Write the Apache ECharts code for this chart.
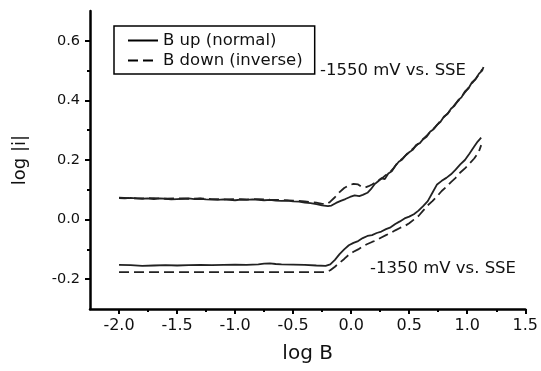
<!DOCTYPE html>
<html><head><meta charset="utf-8">
<script src="https://cdn.jsdelivr.net/npm/echarts@6/dist/echarts.min.js"></script>
<style>html,body{margin:0;padding:0;background:#fff}#c{width:541px;height:371px}</style>
</head><body><div id="c"></div>
<script>
const xMajorTicks = [-2.0,-1.5,-1.0,-0.5,0.0,0.5,1.0,1.5];
const xMinorTicks = [-1.75,-1.25,-0.75,-0.25,0.25,0.75,1.25];
const yMajorTicks = [-0.2,0.0,0.2,0.4,0.6];
const yMinorTicks = [-0.1,0.1,0.3,0.5];
const seriesNames = ['B up (normal)','B down (inverse)'];
const curveLabels = ['-1550 mV vs. SSE','-1350 mV vs. SSE'];
const axisNames = ['log B','log |i|'];

const up1550 = [[-2.00,0.072],[-1.95,0.071],[-1.90,0.073],[-1.85,0.071],[-1.80,0.070],[-1.75,0.071],[-1.70,0.069],[-1.65,0.071],[-1.60,0.070],[-1.55,0.068],[-1.50,0.069],[-1.45,0.070],[-1.40,0.071],[-1.35,0.069],[-1.30,0.070],[-1.25,0.068],[-1.20,0.067],[-1.15,0.066],[-1.10,0.068],[-1.05,0.066],[-1.00,0.065],[-0.95,0.067],[-0.90,0.066],[-0.85,0.068],[-0.80,0.066],[-0.75,0.065],[-0.70,0.066],[-0.65,0.064],[-0.60,0.063],[-0.55,0.064],[-0.50,0.061],[-0.45,0.060],[-0.40,0.057],[-0.35,0.055],[-0.30,0.052],[-0.25,0.048],[-0.20,0.045],[-0.17,0.047],[-0.13,0.056],[-0.09,0.063],[-0.05,0.069],[-0.01,0.076],[0.03,0.081],[0.07,0.079],[0.10,0.083],[0.14,0.090],[0.17,0.102],[0.20,0.118],[0.23,0.128],[0.26,0.138],[0.29,0.136],[0.32,0.155],[0.35,0.162],[0.38,0.180],[0.41,0.194],[0.44,0.202],[0.47,0.216],[0.50,0.226],[0.53,0.234],[0.56,0.250],[0.59,0.256],[0.62,0.270],[0.65,0.278],[0.68,0.295],[0.71,0.303],[0.74,0.318],[0.77,0.328],[0.80,0.346],[0.83,0.354],[0.86,0.372],[0.89,0.382],[0.92,0.400],[0.95,0.410],[0.98,0.430],[1.01,0.440],[1.04,0.460],[1.07,0.470],[1.10,0.489],[1.13,0.501],[1.14,0.512]];

const down1550 = [[-2.00,0.074],[-1.90,0.072],[-1.80,0.071],[-1.70,0.072],[-1.60,0.070],[-1.50,0.071],[-1.40,0.070],[-1.30,0.071],[-1.20,0.069],[-1.10,0.068],[-1.00,0.069],[-0.90,0.068],[-0.80,0.069],[-0.70,0.067],[-0.60,0.066],[-0.50,0.064],[-0.40,0.061],[-0.30,0.057],[-0.25,0.053],[-0.21,0.052],[-0.18,0.060],[-0.14,0.075],[-0.10,0.092],[-0.06,0.106],[-0.02,0.115],[0.02,0.120],[0.06,0.118],[0.09,0.110],[0.12,0.108],[0.15,0.112],[0.18,0.118],[0.21,0.125],[0.24,0.133],[0.27,0.140],[0.30,0.150],[0.33,0.158],[0.36,0.170],[0.39,0.186],[0.42,0.198],[0.45,0.208],[0.48,0.220],[0.51,0.230],[0.54,0.241],[0.57,0.252],[0.60,0.262],[0.63,0.274],[0.66,0.285],[0.69,0.298],[0.72,0.309],[0.75,0.322],[0.78,0.336],[0.81,0.348],[0.84,0.360],[0.87,0.375],[0.90,0.389],[0.93,0.402],[0.96,0.417],[0.99,0.432],[1.02,0.447],[1.05,0.462],[1.08,0.476],[1.11,0.492],[1.13,0.505]];

const up1350 = [[-2.00,-0.152],[-1.90,-0.153],[-1.80,-0.155],[-1.70,-0.154],[-1.60,-0.153],[-1.50,-0.154],[-1.40,-0.153],[-1.30,-0.152],[-1.20,-0.153],[-1.10,-0.152],[-1.00,-0.151],[-0.90,-0.152],[-0.80,-0.150],[-0.75,-0.148],[-0.70,-0.147],[-0.65,-0.149],[-0.60,-0.150],[-0.50,-0.151],[-0.40,-0.152],[-0.30,-0.154],[-0.22,-0.155],[-0.18,-0.150],[-0.14,-0.135],[-0.10,-0.116],[-0.06,-0.100],[-0.02,-0.086],[0.02,-0.078],[0.06,-0.072],[0.10,-0.062],[0.14,-0.055],[0.18,-0.052],[0.22,-0.045],[0.26,-0.040],[0.30,-0.032],[0.34,-0.026],[0.38,-0.015],[0.42,-0.006],[0.46,0.004],[0.50,0.010],[0.54,0.018],[0.58,0.030],[0.62,0.045],[0.66,0.062],[0.70,0.090],[0.74,0.118],[0.78,0.130],[0.82,0.140],[0.86,0.152],[0.90,0.168],[0.94,0.185],[0.98,0.200],[1.02,0.222],[1.06,0.245],[1.09,0.262],[1.12,0.275]];

const down1350 = [[-2.00,-0.176],[-1.50,-0.176],[-1.00,-0.176],[-0.50,-0.176],[-0.22,-0.176],[-0.18,-0.170],[-0.14,-0.158],[-0.10,-0.145],[-0.06,-0.132],[-0.02,-0.118],[0.02,-0.108],[0.06,-0.100],[0.10,-0.090],[0.14,-0.082],[0.18,-0.075],[0.22,-0.069],[0.26,-0.060],[0.30,-0.052],[0.34,-0.045],[0.38,-0.036],[0.42,-0.028],[0.46,-0.022],[0.50,-0.012],[0.54,0.000],[0.58,0.012],[0.62,0.030],[0.66,0.048],[0.70,0.062],[0.74,0.078],[0.78,0.096],[0.82,0.110],[0.86,0.126],[0.90,0.140],[0.94,0.158],[0.98,0.172],[1.02,0.188],[1.06,0.205],[1.10,0.228],[1.12,0.250]];

const FONT = 'DejaVu Sans';
const INK = '#111';
const LINE = '#222';
const chart = echarts.init(document.getElementById('c'), null, {renderer:'canvas'});

function xAxisDef(ticks, len, withLabels){
  return {
    type:'value', min:-2.25, max:1.5, position:'bottom', gridIndex:0,
    axisLine:{show:withLabels, onZero:false, lineStyle:{color:'#000', width:2.5}},
    axisTick:{show:true, customValues:ticks, length:len, inside:false, lineStyle:{color:'#000', width:2}},
    axisLabel:{show:withLabels, customValues:ticks, formatter:v=>Number(v).toFixed(1), margin:9, fontSize:16, color:INK, fontFamily:FONT},
    splitLine:{show:false},
    name: withLabels ? axisNames[0] : '', nameLocation:'middle', nameGap:35,
    nameTextStyle:{fontSize:20, color:INK, fontFamily:FONT}
  };
}
function yAxisDef(ticks, len, withLabels){
  return {
    type:'value', min:-0.3, max:0.7, position:'left', gridIndex:0,
    axisLine:{show:withLabels, onZero:false, lineStyle:{color:'#000', width:2.5}},
    axisTick:{show:true, customValues:ticks, length:len, inside:false, lineStyle:{color:'#000', width:2}},
    axisLabel:{show:withLabels, customValues:ticks, formatter:v=>Number(v).toFixed(1), margin:10, fontSize:14.5, color:INK, fontFamily:FONT},
    splitLine:{show:false},
    name: withLabels ? axisNames[1] : '', nameLocation:'middle', nameGap:61,
    nameTextStyle:{fontSize:18, color:INK, fontFamily:FONT}
  };
}
function lineSeries(name, data, dashed){
  return {
    type:'line', name:name, data:data, xAxisIndex:0, yAxisIndex:0,
    symbol:'none', smooth:false, silent:true,
    lineStyle:{color:LINE, width:1.8, type: dashed ? [10,5] : 'solid'},
    itemStyle:{color:LINE}
  };
}

chart.setOption({
  animation:false,
  backgroundColor:'#fff',
  grid:{left:90, right:13, top:11, bottom:62, containLabel:false},
  xAxis:[xAxisDef(xMajorTicks,5,true), xAxisDef(xMinorTicks,3,false)],
  yAxis:[yAxisDef(yMajorTicks,5,true), yAxisDef(yMinorTicks,3,false)],
  legend:{
    data:seriesNames, orient:'vertical', left:114, top:26,
    padding:[6,12,5,13], itemGap:3, itemWidth:30, itemHeight:14,
    borderColor:'#000', borderWidth:1.5, backgroundColor:'#fff',
    textStyle:{fontSize:16.5, color:INK, fontFamily:FONT},
    itemStyle:{opacity:0},
    lineStyle:{width:2, color:'#000'}
  },
  graphic:[
    {type:'text', left:320, top:62, silent:true, style:{text:curveLabels[0], font:'16.5px "DejaVu Sans"', fill:INK}},
    {type:'text', left:370, top:260, silent:true, style:{text:curveLabels[1], font:'16.5px "DejaVu Sans"', fill:INK}}
  ],
  series:[
    lineSeries(seriesNames[0], up1550, false),
    lineSeries(seriesNames[1], down1550, true),
    lineSeries(seriesNames[0], up1350, false),
    lineSeries(seriesNames[1], down1350, true)
  ]
});
</script>
</body></html>
